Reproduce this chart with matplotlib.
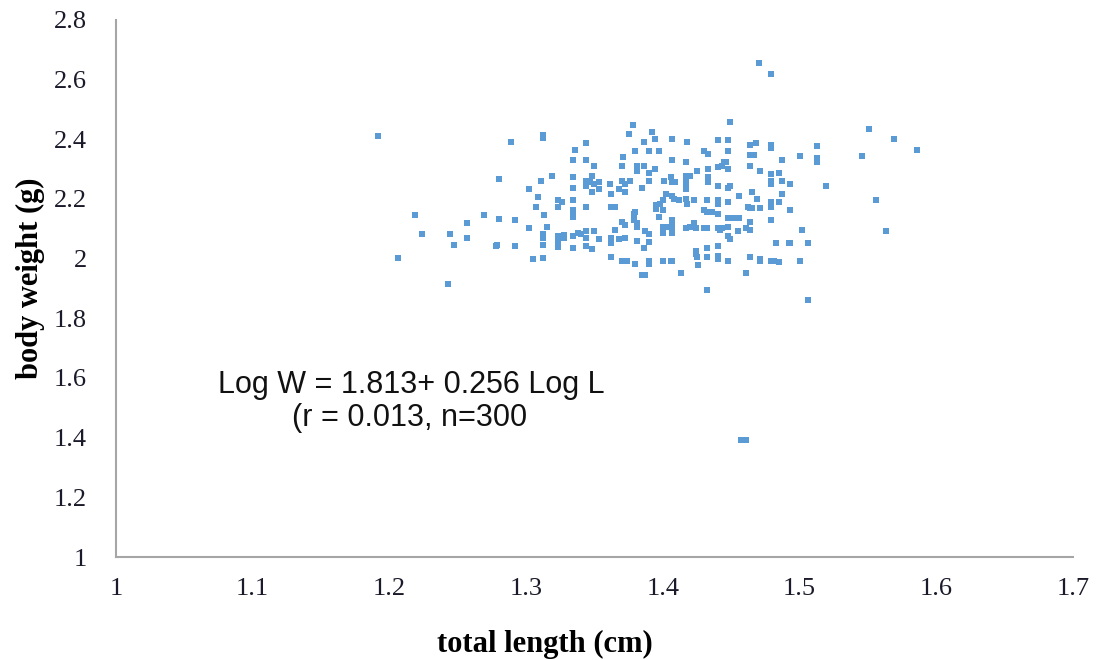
import matplotlib
matplotlib.use("Agg")
import matplotlib.pyplot as plt

# total length (cm) / body weight (g)
length_cm = [
    # left part
    1.192, 1.289, 1.312, 1.312, 1.280, 1.319, 1.311, 1.302, 1.309, 1.307,
    1.219, 1.269, 1.280, 1.292, 1.313, 1.257, 1.302, 1.315, 1.224, 1.244,
    1.257, 1.312, 1.312, 1.247, 1.279, 1.278, 1.292, 1.312, 1.206, 1.305,
    1.312, 1.243,
    # dense middle
    1.378, 1.375, 1.392, 1.394, 1.386, 1.344, 1.407, 1.418, 1.449, 1.440,
    1.448, 1.336, 1.380, 1.390, 1.397, 1.430, 1.433, 1.448, 1.334, 1.344,
    1.371, 1.407, 1.417, 1.446, 1.350, 1.370, 1.381, 1.386, 1.381, 1.394,
    1.390, 1.440, 1.443, 1.445, 1.448, 1.433, 1.425, 1.334, 1.348, 1.344,
    1.347, 1.353, 1.350, 1.390, 1.370, 1.376, 1.361, 1.372, 1.385, 1.401,
    1.406, 1.407, 1.409, 1.417, 1.417, 1.417, 1.417, 1.417, 1.420, 1.433,
    1.433, 1.440, 1.449, 1.448, 1.334, 1.344, 1.353, 1.348, 1.368, 1.362,
    1.372, 1.456, 1.402, 1.407, 1.408, 1.412, 1.417, 1.418, 1.423, 1.432,
    1.440, 1.440, 1.448, 1.323, 1.326, 1.323, 1.334, 1.344, 1.362, 1.365,
    1.400, 1.398, 1.395, 1.395, 1.400, 1.397, 1.380, 1.379, 1.430, 1.432,
    1.436, 1.440, 1.334, 1.334, 1.334, 1.370, 1.372, 1.379, 1.381, 1.381,
    1.407, 1.407, 1.407, 1.407, 1.400, 1.402, 1.400, 1.417, 1.420, 1.423,
    1.424, 1.430, 1.432, 1.440, 1.443, 1.442, 1.448, 1.451, 1.456, 1.448,
    1.448, 1.449, 1.455, 1.461, 1.365, 1.387, 1.390, 1.323, 1.323, 1.323,
    1.328, 1.328, 1.334, 1.338, 1.340, 1.344, 1.344, 1.350, 1.353, 1.362,
    1.362, 1.372, 1.368, 1.381, 1.390, 1.386, 1.334, 1.344, 1.348, 1.362,
    1.370, 1.374, 1.380, 1.390, 1.390, 1.400, 1.406, 1.407, 1.424, 1.424,
    1.425, 1.432, 1.432, 1.440, 1.440, 1.440, 1.448, 1.426, 1.413, 1.385,
    1.387, 1.432, 1.461,
    # right part
    1.551, 1.569, 1.586, 1.464, 1.468, 1.479, 1.479, 1.513, 1.464, 1.467,
    1.487, 1.500, 1.513, 1.513, 1.546, 1.464, 1.471, 1.479, 1.485, 1.479,
    1.479, 1.487, 1.493, 1.519, 1.465, 1.469, 1.487, 1.479, 1.479, 1.485,
    1.462, 1.464, 1.465, 1.471, 1.493, 1.556, 1.464, 1.479, 1.464, 1.502,
    1.563, 1.483, 1.492, 1.493, 1.506, 1.464, 1.471, 1.471, 1.479, 1.481,
    1.485, 1.500, 1.506,
    # outliers
    1.470, 1.479, 1.457, 1.461,
]

weight_g = [
    2.412, 2.391, 2.414, 2.403, 2.266, 2.277, 2.260, 2.234, 2.206, 2.173,
    2.145, 2.145, 2.134, 2.129, 2.145, 2.119, 2.102, 2.107, 2.081, 2.081,
    2.069, 2.081, 2.069, 2.047, 2.047, 2.041, 2.043, 2.047, 2.003, 1.998,
    2.003, 1.916,
    2.446, 2.418, 2.424, 2.401, 2.391, 2.386, 2.402, 2.391, 2.457, 2.397,
    2.397, 2.364, 2.359, 2.359, 2.359, 2.360, 2.350, 2.359, 2.331, 2.331,
    2.339, 2.331, 2.325, 2.325, 2.310, 2.310, 2.310, 2.310, 2.294, 2.299,
    2.288, 2.306, 2.311, 2.325, 2.299, 2.299, 2.293, 2.272, 2.277, 2.261,
    2.255, 2.255, 2.249, 2.261, 2.261, 2.261, 2.249, 2.249, 2.238, 2.261,
    2.272, 2.255, 2.255, 2.277, 2.266, 2.255, 2.244, 2.233, 2.277, 2.272,
    2.255, 2.244, 2.244, 2.238, 2.238, 2.244, 2.233, 2.223, 2.234, 2.217,
    2.223, 2.211, 2.217, 2.211, 2.200, 2.195, 2.200, 2.183, 2.195, 2.195,
    2.195, 2.183, 2.190, 2.195, 2.190, 2.173, 2.195, 2.173, 2.173, 2.173,
    2.195, 2.183, 2.178, 2.167, 2.162, 2.140, 2.157, 2.151, 2.162, 2.157,
    2.157, 2.151, 2.162, 2.151, 2.140, 2.124, 2.113, 2.130, 2.119, 2.107,
    2.130, 2.119, 2.107, 2.085, 2.107, 2.107, 2.085, 2.102, 2.107, 2.119,
    2.102, 2.102, 2.102, 2.102, 2.102, 2.096, 2.135, 2.135, 2.135, 2.107,
    2.074, 2.065, 2.091, 2.102, 2.096, 2.092, 2.081, 2.077, 2.057, 2.040,
    2.079, 2.068, 2.074, 2.087, 2.081, 2.092, 2.069, 2.092, 2.064, 2.069,
    2.053, 2.069, 2.064, 2.059, 2.054, 2.037, 2.037, 2.043, 2.031, 2.004,
    1.993, 1.993, 1.982, 1.993, 1.982, 1.993, 1.993, 1.993, 2.026, 2.015,
    2.004, 2.037, 2.004, 2.043, 2.009, 1.999, 1.993, 1.977, 1.950, 1.944,
    1.944, 1.894, 1.950,
    2.435, 2.401, 2.364, 2.381, 2.386, 2.381, 2.370, 2.376, 2.348, 2.348,
    2.331, 2.342, 2.337, 2.325, 2.342, 2.310, 2.293, 2.283, 2.287, 2.261,
    2.249, 2.261, 2.249, 2.244, 2.223, 2.200, 2.217, 2.189, 2.173, 2.189,
    2.173, 2.170, 2.168, 2.168, 2.162, 2.195, 2.124, 2.130, 2.096, 2.096,
    2.091, 2.053, 2.053, 2.053, 2.053, 2.004, 1.998, 1.992, 1.992, 1.992,
    1.987, 1.992, 1.862,
    2.656, 2.619, 1.392, 1.392,
]

x_ticks = [1, 1.1, 1.2, 1.3, 1.4, 1.5, 1.6, 1.7]
y_ticks = [1, 1.2, 1.4, 1.6, 1.8, 2, 2.2, 2.4, 2.6, 2.8]
equation = "Log W = 1.813+ 0.256 Log L"
stats = "(r = 0.013, n=300"

fig = plt.figure(figsize=(10.96, 6.6), dpi=100)
ax = fig.add_axes([0.1058, 0.156, 0.8732, 0.814])

ax.scatter(length_cm, weight_g, s=15, marker="s", color="#5b9bd5", linewidths=0)

ax.set_xlim(1, 1.7)
ax.set_ylim(1, 2.8)
ax.set_xticks(x_ticks)
ax.set_xticklabels([f"{t:g}" for t in x_ticks])
ax.set_yticks(y_ticks)
ax.set_yticklabels([f"{t:g}" for t in y_ticks])

for side in ["top", "right"]:
    ax.spines[side].set_visible(False)
for side in ["left", "bottom"]:
    ax.spines[side].set_color("#a6a6a6")
    ax.spines[side].set_linewidth(1.5)

ax.tick_params(axis="both", length=0, labelsize=19, colors="#1a1a2a")
ax.tick_params(axis="y", pad=21)
ax.tick_params(axis="x", pad=15)
for lab in ax.get_xticklabels() + ax.get_yticklabels():
    lab.set_family("Liberation Serif")

fig.text(0.497, 0.023, "total length (cm)", ha="center", va="center",
         fontsize=22, fontweight="bold", family="Liberation Serif")
fig.text(0.028, 0.579, "body weight (g)", ha="center", va="center", rotation=90,
         fontsize=22, fontweight="bold", family="Liberation Serif")

ax.text(1.0745, 1.577, equation, ha="left", va="center",
        fontsize=22, family="Liberation Sans", color="#111111")
ax.text(1.129, 1.466, stats, ha="left", va="center",
        fontsize=22, family="Liberation Sans", color="#111111")

fig.savefig("out.png", dpi=100)
